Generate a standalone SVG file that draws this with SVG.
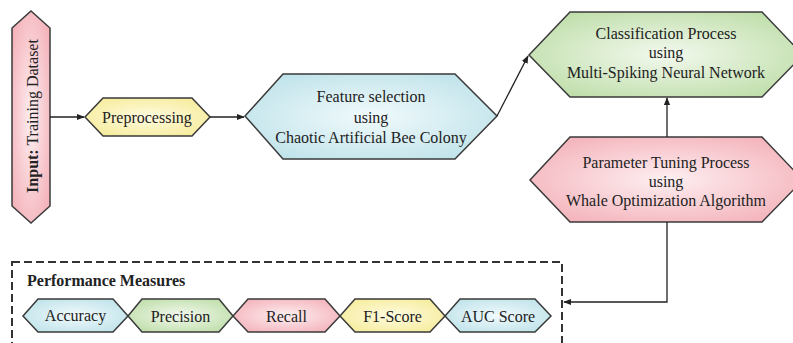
<svg xmlns="http://www.w3.org/2000/svg" width="793" height="343" viewBox="0 0 793 343">
<style>
.hx{stroke:#3a3a3a;stroke-width:1.5;stroke-linejoin:miter}
.t{font-family:"Liberation Serif","Times New Roman",serif;font-size:16px;fill:#222;text-anchor:middle;dominant-baseline:central}
.ln{stroke:#222;stroke-width:1.3;fill:none}
</style>
<defs>
<radialGradient id="gPink" cx="50%" cy="50%" r="60%"><stop offset="0" stop-color="#fdeff1"/><stop offset="1" stop-color="#f4b3bb"/></radialGradient>
<radialGradient id="gYel" cx="50%" cy="50%" r="60%"><stop offset="0" stop-color="#fffbe0"/><stop offset="1" stop-color="#f6ec9c"/></radialGradient>
<radialGradient id="gBlue" cx="50%" cy="50%" r="60%"><stop offset="0" stop-color="#f1fafc"/><stop offset="1" stop-color="#bfe3ea"/></radialGradient>
<radialGradient id="gGreen" cx="50%" cy="50%" r="60%"><stop offset="0" stop-color="#f3f9ee"/><stop offset="1" stop-color="#bfdeaa"/></radialGradient>
<marker id="ah" viewBox="0 0 10 10" refX="9" refY="5" markerWidth="8" markerHeight="8" markerUnits="userSpaceOnUse" orient="auto"><path d="M0,1 L10,5 L0,9 Z" fill="#222"/></marker>
</defs>

<g id="input">
<polygon class="hx" fill="url(#gPink)" points="31,11 50,28 50,206 31,223 12,206 12,28"/>
<text class="t" transform="translate(32,116) rotate(-90)"><tspan font-weight="bold">Input:</tspan> Training Dataset</text>
</g>

<g id="preprocessing">
<polygon class="hx" fill="url(#gYel)" points="85,117 103,98 192,98 210,117 192,136 103,136"/>
<text class="t" x="147" y="117">Preprocessing</text>
</g>

<g id="feature">
<polygon class="hx" fill="url(#gBlue)" points="245,116 283,74 455,74 497,116 455,159 283,159"/>
<text class="t" x="371" y="96">Feature selection</text>
<text class="t" x="371" y="117">using</text>
<text class="t" x="371" y="137">Chaotic Artificial Bee Colony</text>
</g>

<g id="classification">
<polygon class="hx" fill="url(#gGreen)" points="529,55 570,12 762,12 803,55 762,97 570,97"/>
<text class="t" x="666" y="33">Classification Process</text>
<text class="t" x="666" y="52">using</text>
<text class="t" x="666" y="72">Multi-Spiking Neural Network</text>
</g>

<g id="tuning">
<polygon class="hx" fill="url(#gPink)" points="530,180 570,137 762,137 803,180 762,222 570,222"/>
<text class="t" x="666" y="162">Parameter Tuning Process</text>
<text class="t" x="666" y="181">using</text>
<text class="t" x="666" y="200">Whale Optimization Algorithm</text>
</g>

<g id="performance">
<rect x="12" y="262" width="550" height="100" fill="none" stroke="#333" stroke-width="2" stroke-dasharray="8,4"/>
<text x="27" y="280" font-family="Liberation Serif, serif" font-size="16" font-weight="bold" fill="#222" dominant-baseline="central">Performance Measures</text>
<g id="accuracy">
<polygon class="hx" fill="url(#gBlue)" points="23,316 38,299 113,299 128,316 113,332 38,332"/>
<text class="t" x="75.5" y="315">Accuracy</text>
</g>
<g id="precision">
<polygon class="hx" fill="url(#gGreen)" points="128,316 142,299 219,299 233,316 219,332 142,332"/>
<text class="t" x="180.5" y="316">Precision</text>
</g>
<g id="recall">
<polygon class="hx" fill="url(#gPink)" points="233,316 248,299 325,299 340,316 325,332 248,332"/>
<text class="t" x="286.5" y="316">Recall</text>
</g>
<g id="f1">
<polygon class="hx" fill="url(#gYel)" points="340,316 355,299 430,299 445,316 430,332 355,332"/>
<text class="t" x="392.5" y="316">F1-Score</text>
</g>
<g id="auc">
<polygon class="hx" fill="url(#gBlue)" points="445,316 460,299 535,299 551,316 535,332 460,332"/>
<text class="t" x="498" y="316">AUC Score</text>
</g>
</g>

<g id="connectors">
<line class="ln" x1="50" y1="117" x2="84" y2="117" marker-end="url(#ah)"/>
<line class="ln" x1="210" y1="117" x2="244" y2="117" marker-end="url(#ah)"/>
<line class="ln" x1="497" y1="116" x2="528" y2="56" marker-end="url(#ah)"/>
<line class="ln" x1="667" y1="137" x2="667" y2="98" marker-end="url(#ah)"/>
<polyline class="ln" points="667,222 667,302 564,302" marker-end="url(#ah)"/>
</g>
</svg>
